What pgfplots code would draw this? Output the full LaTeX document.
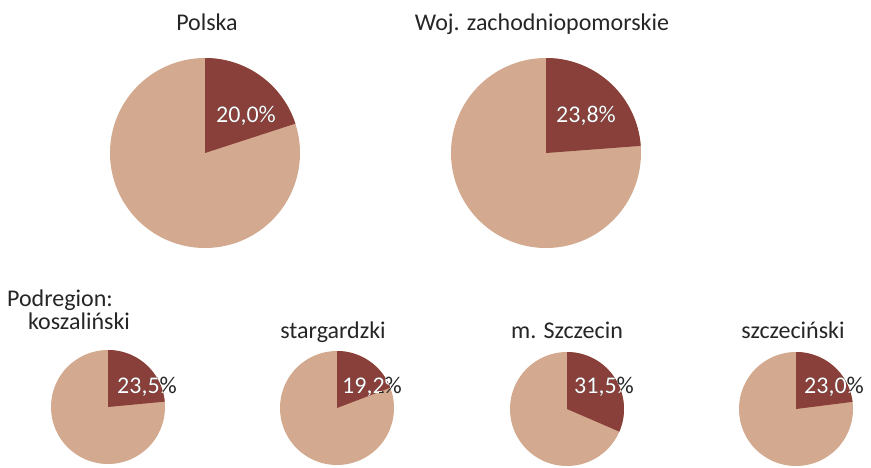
\documentclass[border=0pt]{standalone}
\usepackage{pgfplots}
\pgfplotsset{compat=1.18}
\usepackage{fontspec}
\setmainfont{Carlito}
\definecolor{piedark}{RGB}{137,64,58}
\definecolor{pielight}{RGB}{211,170,143}
\definecolor{txt}{RGB}{38,38,38}
% #1 cx, #2 cy, #3 radius (px), #4 share in percent
\newcommand{\pie}[4]{%
\begin{axis}[at={(#1pt,-#2pt)}, anchor=center, scale only axis,
  width=#3pt*2, height=#3pt*2, xmin=-1, xmax=1, ymin=-1, ymax=1,
  hide axis, clip=false]
\addplot[draw=none, fill=pielight, domain=0:360, samples=181] ({cos(x)},{sin(x)}) -- cycle;
\addplot[draw=none, fill=piedark, domain=90-3.6*#4:90, samples=80] ({cos(x)},{sin(x)}) -- (axis cs:0,0) -- cycle;
\end{axis}}
% #1 cx #2 cy #3 r #4 share #5 label x #6 label baseline y #7 text
\newcommand{\pielabel}[7]{%
\node[anchor=base, text=txt, inner sep=0pt] at (#5pt,-#6pt) {#7};
\begin{scope}
\clip (#1pt,-#2pt) -- (#1pt,-#2pt+#3pt) arc[start angle=90, end angle=90-3.6*#4, radius=#3pt] -- cycle;
\node[anchor=base, text=white, inner sep=0pt] at (#5pt,-#6pt) {#7};
\end{scope}}
\begin{document}
\fontsize{24}{28}\selectfont
\begin{tikzpicture}
\useasboundingbox (0,0) rectangle (871pt,-468pt);
\pie{205}{153}{95}{20.0}
\pie{546}{153}{95}{23.8}
\pie{108}{407}{57}{23.5}
\pie{337}{408}{57}{19.2}
\pie{567}{409}{57}{31.5}
\pie{796}{409}{57}{23.0}
\pielabel{205}{153}{95}{20.0}{246}{123}{20,0\%}
\pielabel{546}{153}{95}{23.8}{586}{123}{23,8\%}
\pielabel{108}{407}{57}{23.5}{147}{393}{23,5\%}
\pielabel{337}{408}{57}{19.2}{372}{393}{19,2\%}
\pielabel{567}{409}{57}{31.5}{604}{393}{31,5\%}
\pielabel{796}{409}{57}{23.0}{834}{393}{23,0\%}
\begin{scope}[every node/.style={anchor=base, text=txt, inner sep=0pt}]
\node at (207pt,-31pt) {Polska};
\node at (542pt,-31pt) {Woj. zachodniopomorskie};
\node at (60pt,-306pt) {Podregion:};
\node at (79pt,-329pt) {koszaliński};
\node at (333pt,-338pt) {stargardzki};
\node at (567pt,-338pt) {m. Szczecin};
\node at (793pt,-338pt) {szczeciński};
\end{scope}
\end{tikzpicture}
\end{document}
